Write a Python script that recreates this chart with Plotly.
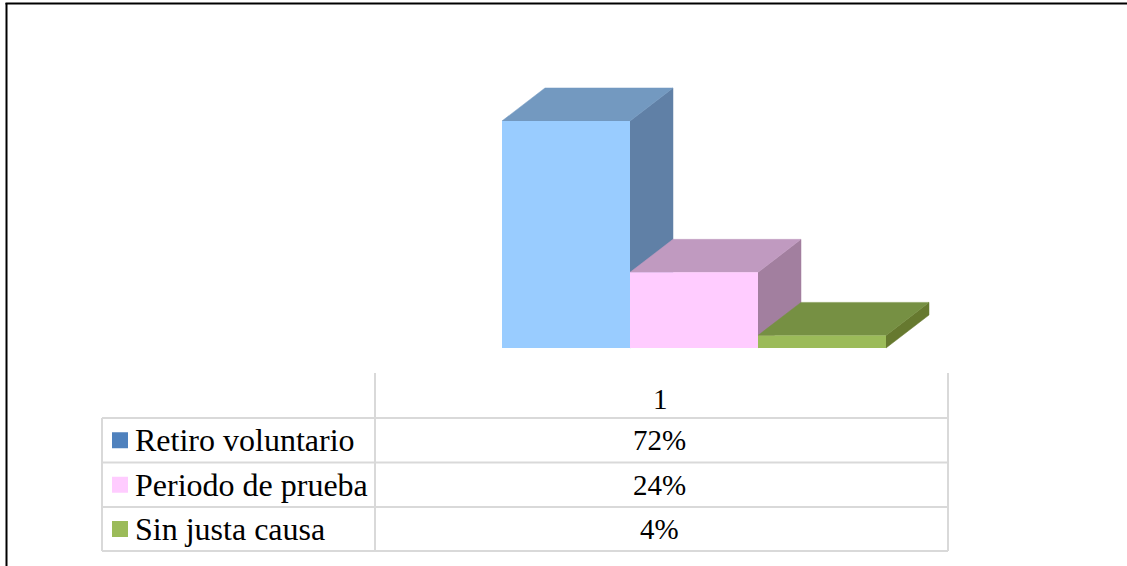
import plotly.graph_objects as go

# Data
series = ["Retiro voluntario", "Periodo de prueba", "Sin justa causa"]
values = [72, 24, 4]
column_label = "1"
front_colors = ["#99CCFF", "#FFCCFF", "#9BBB59"]
top_colors = ["#7399C0", "#C09AC0", "#769043"]
side_colors = ["#6080A6", "#A27F9F", "#66792F"]
swatch_colors = ["#4F81BD", "#FFCCFF", "#9BBB59"]

W, H = 1127, 566
PX_X = 128.0          # pixels per category
PX_Y = 3.153          # pixels per percent
X0, Y0 = 502, 348     # pixel position of the left end of the baseline
DX = 43 / PX_X        # depth offset, x units
DY = 33 / PX_Y        # depth offset, y units
GRID = "#D9D9D9"
FONT = "Liberation Serif"

fig = go.Figure()

# oblique faces
for i, v in enumerate(values):
    fig.add_trace(go.Scatter(
        x=[i + 0.5, i + 0.5 + DX, i + 0.5 + DX, i + 0.5, i + 0.5],
        y=[0, DY, v + DY, v, 0],
        mode="lines", fill="toself", fillcolor=side_colors[i],
        line=dict(color=side_colors[i], width=0.5),
        hoverinfo="skip", showlegend=False))
    fig.add_trace(go.Scatter(
        x=[i - 0.5, i - 0.5 + DX, i + 0.5 + DX, i + 0.5, i - 0.5],
        y=[v, v + DY, v + DY, v, v],
        mode="lines", fill="toself", fillcolor=top_colors[i],
        line=dict(color=top_colors[i], width=0.5),
        hoverinfo="skip", showlegend=False))

# front faces, on overlaying axes so that they paint above the oblique faces
fig.add_trace(go.Bar(
    x=[0, 1, 2], y=values, width=1, xaxis="x2", yaxis="y2",
    marker=dict(color=front_colors, line=dict(width=0)),
    hoverinfo="skip", showlegend=False))


def px(x):
    return x / W


def py(y):
    return 1 - y / H


shapes = []


def line(x0, y0, x1, y1, color=GRID, width=2):
    shapes.append(dict(type="line", xref="paper", yref="paper",
                       x0=px(x0), y0=py(y0), x1=px(x1), y1=py(y1),
                       line=dict(color=color, width=width), layer="above"))


# outer frame of the picture
line(5.5, 3.5, W, 3.5, "#000000", 2)
line(6.5, 3, 6.5, H, "#000000", 2)

# data table
T_LEFT, T_MID, T_RIGHT = 102, 375, 948
T_TOP = 373
ROWS = [418, 462.5, 507, 551]
line(T_MID, T_TOP, T_MID, ROWS[-1])
line(T_RIGHT, T_TOP, T_RIGHT, ROWS[-1])
line(T_LEFT, ROWS[0], T_LEFT, ROWS[-1])
for r in ROWS:
    line(T_LEFT, r, T_RIGHT, r)

annotations = [dict(
    x=px((T_MID + T_RIGHT) / 2 - 1), y=py(399), xref="paper", yref="paper",
    text=column_label, showarrow=False, xanchor="center", yanchor="middle",
    font=dict(family=FONT, size=29, color="#000000"))]

for i, (name, v) in enumerate(zip(series, values)):
    yc = (ROWS[i] + ROWS[i + 1]) / 2
    shapes.append(dict(type="rect", xref="paper", yref="paper",
                       x0=px(112), x1=px(128), y0=py(yc - 8), y1=py(yc + 8),
                       fillcolor=swatch_colors[i], line=dict(width=0), layer="above"))
    annotations.append(dict(
        x=px(133), y=py(yc), xref="paper", yref="paper", text=name,
        showarrow=False, xanchor="left", yanchor="middle",
        font=dict(family=FONT, size=32, color="#000000")))
    annotations.append(dict(
        x=px((T_MID + T_RIGHT) / 2 - 2), y=py(yc), xref="paper", yref="paper",
        text=f"{v}%", showarrow=False, xanchor="center", yanchor="middle",
        font=dict(family=FONT, size=29, color="#000000")))

xrange_ = [-0.5 - X0 / PX_X, -0.5 + (W - X0) / PX_X]
yrange_ = [(Y0 - H) / PX_Y, Y0 / PX_Y]
fig.update_layout(
    width=W, height=H, autosize=False,
    margin=dict(l=0, r=0, t=0, b=0),
    paper_bgcolor="#FFFFFF", plot_bgcolor="#FFFFFF",
    barmode="overlay",
    xaxis=dict(range=xrange_, visible=False, fixedrange=True),
    yaxis=dict(range=yrange_, visible=False, fixedrange=True),
    xaxis2=dict(range=xrange_, visible=False, fixedrange=True, overlaying="x"),
    yaxis2=dict(range=yrange_, visible=False, fixedrange=True, overlaying="y"),
    shapes=shapes, annotations=annotations)

fig.write_html(
    "out.html", config={"displayModeBar": False},
    post_script="document.body.style.margin='0';document.body.style.overflow='hidden';")
